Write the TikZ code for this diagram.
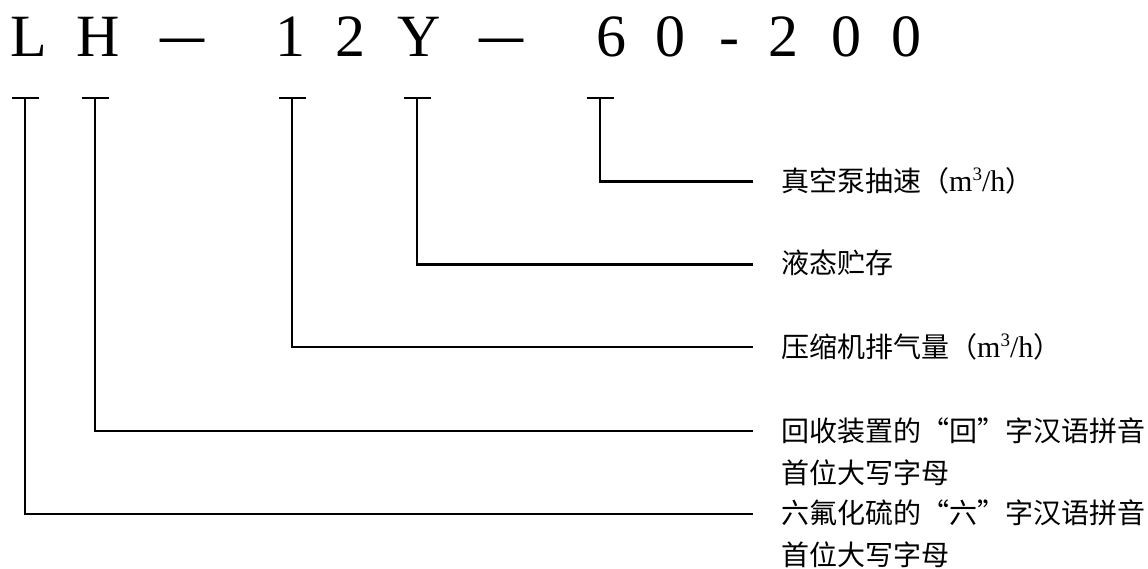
\documentclass[tikz,border=0pt]{standalone}
\usepackage{fontspec}
\setmainfont{Liberation Serif}
\newfontfamily\cjk{Noto Sans CJK SC}
\newcommand{\mhunit}{{\rmfamily\fontsize{30}{42}\selectfont m\raisebox{0.38em}{\fontsize{19}{19}\selectfont 3}/h}}
\begin{document}
\begin{tikzpicture}[x=1pt,y=-1pt,
  big/.style={font=\fontsize{60}{60}\selectfont, inner sep=0pt, anchor=base},
  bigdash/.style={font=\cjk\fontsize{56}{56}\selectfont, inner sep=0pt, anchor=base},
  lab/.style={font=\cjk\fontsize{28}{42}\selectfont, inner sep=0pt, anchor=base west, align=left},
  tbar/.style={line width=1.2pt},
  vline/.style={line width=1.8pt},
  hline/.style={line width=2.6pt}]
\useasboundingbox (0,0) rectangle (1148,569);
% code characters
\node[big] (cL) at (28.5,57) {L};
\node[big] (cH) at (98.5,57) {H};
\node[bigdash] (d1) at (183,57) {—};
\node[big] (c1) at (290,57) {1};
\node[big] (c2) at (350,57) {2};
\node[big] (cY) at (419,57) {Y};
\node[bigdash] (d2) at (501.5,57) {—};
\node[big] (c6) at (611,57) {6};
\node[big] (c0) at (670,57) {0};
\node[big] (hy) at (729,57) {-};
\node[big] (e2) at (783.5,57) {2};
\node[big] (e0) at (846,57) {0};
\node[big] (f0) at (906.5,57) {0};
% tick tops
\coordinate (tL) at (25,98);
\coordinate (tH) at (95,98);
\coordinate (t1) at (292,98);
\coordinate (tY) at (417,98);
\coordinate (t6) at (600,98);
\foreach \t in {tL,tH,t1,tY,t6}
  \draw[tbar] ([xshift=-13.5pt]\t) -- ([xshift=13.5pt]\t);
% corners and ends
\coordinate (k6) at (600,181.5);  \coordinate (e6) at (753,181.5);
\coordinate (kY) at (417,264.5);  \coordinate (eY) at (753,264.5);
\coordinate (k1) at (292,347);    \coordinate (e1) at (753,347);
\coordinate (kH) at (95,431);     \coordinate (eH) at (753,431);
\coordinate (kL) at (25,514);     \coordinate (eL) at (753,514);
\foreach \a/\b/\c in {t6/k6/e6,tY/kY/eY,t1/k1/e1,tH/kH/eH,tL/kL/eL}{
  \draw[vline] (\a) -- (\b);
  \draw[hline] ([xshift=-0.9pt]\b) -- (\c);
}
% labels
\node[lab] (l6) at (781,191.5) {真空泵抽速（\mhunit）};
\node[lab] (lY) at (781,273) {液态贮存};
\node[lab] (l1) at (781,357.5) {压缩机排气量（\mhunit）};
\node[lab] (lH) at (781,483.6) {回收装置的“回”字汉语拼音\\首位大写字母};
\node[lab] (lL) at (781,565.5) {六氟化硫的“六”字汉语拼音\\首位大写字母};
\end{tikzpicture}
\end{document}
